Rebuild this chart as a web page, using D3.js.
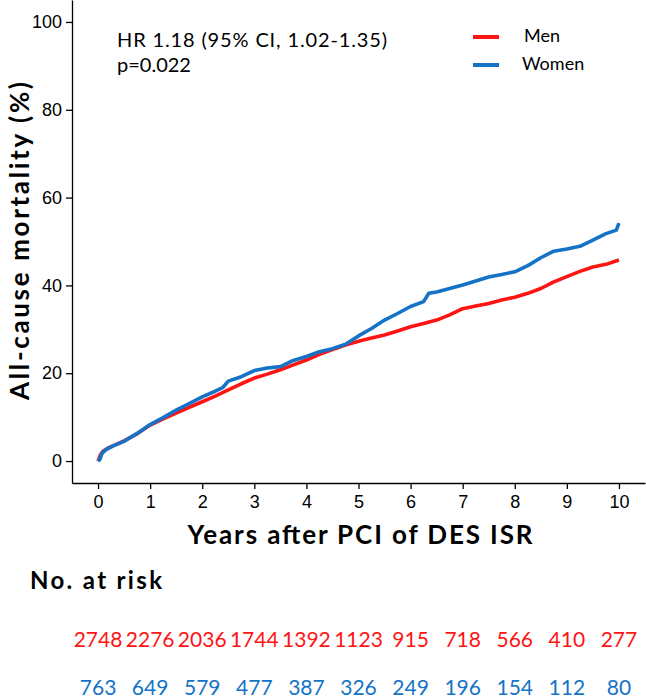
<!DOCTYPE html>
<html>
<head>
<meta charset="utf-8">
<script src="https://cdn.jsdelivr.net/npm/d3@7"></script>
<style>
  body { margin: 0; background: #fff; }
  svg { display: block; font-family: Lato, 'Open Sans', sans-serif; }
  .axis text { font-size: 18px; fill: #000; }
  .axis path, .axis line { stroke: #000; stroke-width: 1.3px; }
  .axis-title { font-size: 26px; font-weight: bold; }
</style>
</head>
<body>
<svg id="chart"></svg>
<script>
// Kaplan-Meier estimates (years, cumulative mortality %)
const menTime = [0, 0.05, 0.1, 0.2, 0.35, 0.5, 0.75, 1, 1.25, 1.5, 1.75, 2, 2.25, 2.5, 2.75, 3, 3.25, 3.5, 3.75, 4,
  4.25, 4.5, 4.75, 5, 5.25, 5.5, 5.75, 6, 6.25, 6.5, 6.75, 7, 7.25, 7.5, 7.75, 8, 8.25, 8.5, 8.75, 9, 9.25, 9.5, 9.75, 10];
const menMort = [0, 1.5, 2.3, 3.0, 3.8, 4.6, 6.2, 8.2, 9.6, 10.9, 12.2, 13.5, 14.8, 16.2, 17.6, 18.9, 19.8, 20.8, 21.9, 23.0,
  24.3, 25.4, 26.4, 27.3, 28.0, 28.7, 29.6, 30.6, 31.3, 32.1, 33.3, 34.7, 35.3, 35.9, 36.7, 37.3, 38.2, 39.3, 40.8, 42.0, 43.2, 44.2, 44.8, 45.8];

const womenTime = [0, 0.03, 0.08, 0.15, 0.3, 0.5, 0.75, 1, 1.25, 1.5, 1.75, 2, 2.25, 2.4, 2.5, 2.75, 3, 3.25, 3.5, 3.75, 4,
  4.25, 4.5, 4.75, 5, 5.25, 5.5, 5.75, 6, 6.25, 6.35, 6.5, 6.75, 7, 7.25, 7.5, 7.75, 8, 8.25, 8.5, 8.75, 9, 9.25, 9.5, 9.75, 9.95, 10];
const womenMort = [0, 0.3, 1.8, 2.6, 3.5, 4.5, 6.3, 8.3, 9.9, 11.6, 13.1, 14.6, 15.9, 16.8, 18.2, 19.2, 20.6, 21.2, 21.5, 22.9, 23.8,
  24.9, 25.6, 26.6, 28.5, 30.2, 32.1, 33.6, 35.2, 36.3, 38.2, 38.5, 39.3, 40.1, 41.0, 41.9, 42.5, 43.1, 44.5, 46.3, 47.8, 48.3, 48.9, 50.3, 51.8, 52.6, 54.2];

const riskYears = [0, 1, 2, 3, 4, 5, 6, 7, 8, 9, 10];
const menRisk = [2748, 2276, 2036, 1744, 1392, 1123, 915, 718, 566, 410, 277];
const womenRisk = [763, 649, 579, 477, 387, 326, 249, 196, 154, 112, 80];

const xTicks = [0, 1, 2, 3, 4, 5, 6, 7, 8, 9, 10];
const yTicks = [0, 20, 40, 60, 80, 100];

const groups = ['Men', 'Women'];
const groupColors = ['#ff1414', '#1473c6'];

class KMPlot {
  constructor(_config) {
    this.config = {
      parentElement: _config.parentElement,
      containerWidth: _config.containerWidth || 646,
      containerHeight: _config.containerHeight || 699
    };
    this.initVis();
  }

  initVis() {
    let vis = this;

    vis.svg = d3.select(vis.config.parentElement)
        .attr('width', vis.config.containerWidth)
        .attr('height', vis.config.containerHeight);

    // scales padded like ggplot's default expansion
    vis.xScale = d3.scaleLinear().domain([-0.5, 10.5]).range([72, 645]);
    vis.yScale = d3.scaleLinear().domain([-5, 105]).range([483, 0]);
    vis.colorScale = d3.scaleOrdinal().domain(groups).range(groupColors);

    vis.xAxis = d3.axisBottom(vis.xScale)
        .tickValues(xTicks)
        .tickSize(6)
        .tickSizeOuter(0)
        .tickPadding(3);

    vis.yAxis = d3.axisLeft(vis.yScale)
        .tickValues(yTicks)
        .tickSize(6)
        .tickSizeOuter(0)
        .tickPadding(4);

    vis.xAxisG = vis.svg.append('g')
        .attr('class', 'axis x-axis')
        .attr('transform', 'translate(0,483)');

    vis.yAxisG = vis.svg.append('g')
        .attr('class', 'axis y-axis')
        .attr('transform', 'translate(72,0)');

    vis.svg.append('text')
        .attr('class', 'axis-title')
        .attr('x', 360)
        .attr('y', 544)
        .attr('textLength', 345)
        .style('text-anchor', 'middle')
        .text('Years after PCI of DES ISR');

    vis.svg.append('text')
        .attr('class', 'axis-title')
        .attr('transform', 'translate(29,241) rotate(-90)')
        .attr('textLength', 318)
        .style('text-anchor', 'middle')
        .text('All-cause mortality (%)');

    vis.line = d3.line()
        .x(d => vis.xScale(d[0]))
        .y(d => vis.yScale(d[1]));

    vis.series = [
      {name: 'Men', values: d3.zip(menTime, menMort), risk: menRisk},
      {name: 'Women', values: d3.zip(womenTime, womenMort), risk: womenRisk}
    ];
  }

  updateVis() {
    let vis = this;

    vis.xAxisG.call(vis.xAxis);
    vis.yAxisG.call(vis.yAxis);
    vis.xAxisG.selectAll('.tick text').attr('dy', '0.9em');

    vis.svg.selectAll('.km-line')
      .data(vis.series)
      .join('path')
        .attr('class', 'km-line')
        .attr('fill', 'none')
        .attr('stroke', d => vis.colorScale(d.name))
        .attr('stroke-width', 3.6)
        .attr('stroke-linejoin', 'round')
        .attr('d', d => vis.line(d.values));

    // HR annotation
    vis.svg.append('text')
        .attr('x', 117).attr('y', 47)
        .attr('textLength', 270)
        .style('font-size', '20px')
        .text('HR 1.18 (95% CI, 1.02-1.35)');
    vis.svg.append('text')
        .attr('x', 117).attr('y', 72)
        .style('font-size', '20px')
        .text('p=0.022');

    // legend
    const legend = vis.svg.selectAll('.legend')
      .data(vis.series)
      .join('g')
        .attr('class', 'legend')
        .attr('transform', (d, i) => `translate(473,${37 + i * 28})`);
    legend.append('line')
        .attr('x1', 0).attr('x2', 26)
        .attr('stroke', d => vis.colorScale(d.name))
        .attr('stroke-width', 4);
    legend.append('text')
        .attr('x', (d, i) => i === 0 ? 51 : 49)
        .attr('y', 5)
        .style('font-size', '18px')
        .text(d => d.name);

    // risk table
    vis.svg.append('text')
        .attr('x', 30).attr('y', 589)
        .attr('textLength', 132)
        .style('font-size', '24px')
        .style('font-weight', 'bold')
        .text('No. at risk');

    vis.series.forEach((s, i) => {
      vis.svg.selectAll(`.risk-${i}`)
        .data(s.risk)
        .join('text')
          .attr('class', `risk-${i}`)
          .attr('x', (d, j) => vis.xScale(riskYears[j]))
          .attr('y', 647 + i * 48)
          .style('text-anchor', 'middle')
          .style('font-size', '21px')
          .attr('fill', vis.colorScale(s.name))
          .text(d => d);
    });
  }
}

const plot = new KMPlot({parentElement: '#chart'});
plot.updateVis();
</script>
</body>
</html>
